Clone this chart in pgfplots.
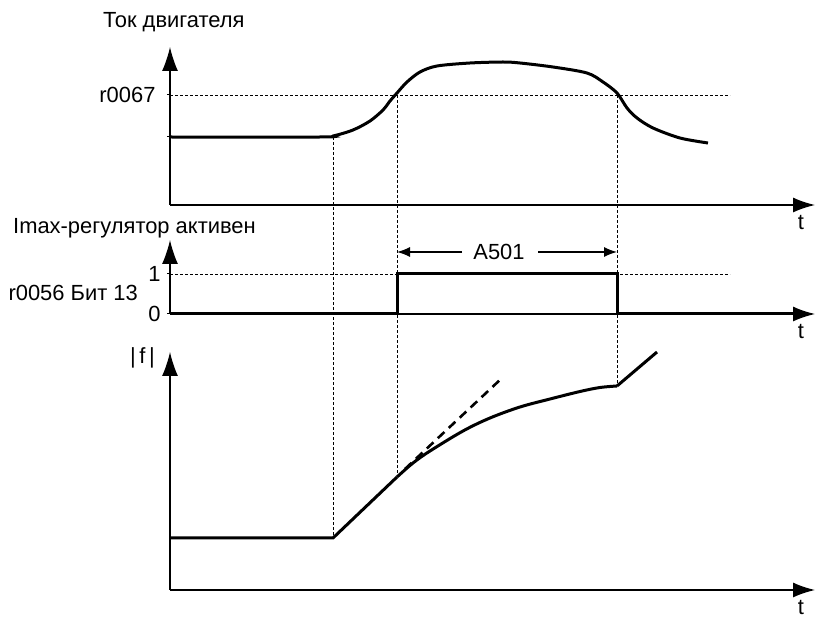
\documentclass[border=0pt]{standalone}
\usepackage{pgfplots}
\pgfplotsset{compat=1.18}
\usepackage{fontspec}
\setmainfont{Liberation Sans}
\usetikzlibrary{arrows.meta}
\newcommand\lbl{\fontsize{22}{26}\selectfont}
\pgfplotsset{
  panel/.style={
    scale only axis, xmin=170, xmax=815, width=645bp,
    axis lines=left,
    axis line style={line width=1.3bp, black},
    x axis line style={-{Latex[length=22bp,width=15bp]}},
    y axis line style={-{Latex[length=24bp,width=16bp]}},
    xtick=\empty, clip=false,
    tick style={line width=1bp, black},
    major tick length=3bp, tick align=outside, ytick pos=left,
    anchor=south west,
    xlabel={\lbl t},
    xlabel style={at={(rel axis cs:0.978,0)}, anchor=north, inner sep=0pt, yshift=-10bp},
    yticklabel style={font=\lbl},
  },
  thinD/.style={line width=0.9bp, dash pattern=on 3bp off 2bp, black},
}
\begin{document}
\begin{tikzpicture}
% ---------- top panel: motor current ----------
\begin{axis}[panel, at={(170bp,414bp)}, ymin=414, ymax=572, height=158bp,
  ytick={482,524}, yticklabels={,\textnormal{r0067}},
  yticklabel style={xshift=-8bp}]
\path (axis cs:0,0) (axis cs:819,619);
\addplot[thinD] coordinates {(170,524) (730,524)};
\addplot[line width=3bp, black, smooth, tension=0.5] coordinates {
 (170,482) (320,482) (333,483) (353,489) (370,498) (383,509) (390,518) (397,526)
 (407,537) (420,547) (437,553) (470,556) (503,557) (520,556) (553,552)
 (587,546) (603,537) (617,526) (627,511) (637,501) (653,491) (680,481) (708,476)};
\node[anchor=west, font=\lbl, inner sep=0pt] at (axis cs:103,597) {Ток двигателя};
\end{axis}
% ---------- middle panel: Imax controller active ----------
\begin{axis}[panel, at={(170bp,305bp)}, ymin=305, ymax=379, height=74bp,
  ytick={305,345}, yticklabels={0,1}, yticklabel style={xshift=-3bp}]
\addplot[thinD] coordinates {(170,345) (730,345)};
\addplot[line width=3bp, black] coordinates {
 (170,305) (397,305) (397,345) (617,345) (617,305) (795,305)};
\addplot[line width=1.3bp, black, -{Latex[length=13bp,width=10bp]}] coordinates {(462,367) (397,367)};
\addplot[line width=1.3bp, black, -{Latex[length=13bp,width=10bp]}] coordinates {(538,367) (617,367)};
\node[font=\lbl, inner sep=0pt] at (axis cs:499,367) {A501};
\node[anchor=west, font=\lbl, inner sep=0pt] at (axis cs:13,391) {Imax-регулятор активен};
\node[anchor=east, font=\lbl, inner sep=0pt] at (axis cs:138,326) {r0056 Бит 13};
\end{axis}
% ---------- bottom panel: |f| ----------
\begin{axis}[panel, at={(170bp,29bp)}, ymin=29, ymax=267, height=238bp, ytick=\empty]
\addplot[line width=3bp, black] coordinates {(170,81) (333,81) (397,142)};
\addplot[line width=3bp, black, smooth, tension=0.55] coordinates {
 (397,142) (413,156) (430,168) (463,188) (490,201) (520,212) (550,220)
 (580,227.5) (600,231.5) (617,233)};
\addplot[line width=3bp, black] coordinates {(617,233) (657,267)};
\addplot[line width=2.6bp, black, dash pattern=on 9bp off 6bp] coordinates {(405,150) (502,241)};
\addplot[thinD] coordinates {(333,482) (333,81)};
\addplot[thinD] coordinates {(397,524) (397,142)};
\addplot[thinD] coordinates {(617,524) (617,233)};
\node[anchor=east, font=\lbl, inner sep=0pt] at (axis cs:155,261) {|\,f\,|};
\end{axis}
\end{tikzpicture}
\end{document}
